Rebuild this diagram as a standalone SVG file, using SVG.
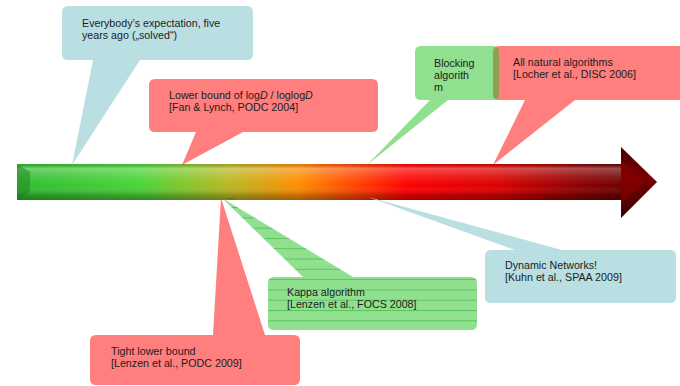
<svg xmlns="http://www.w3.org/2000/svg" width="680" height="386" viewBox="0 0 680 386">
  <style>
    text { font-family: "Liberation Sans", Arial, sans-serif; font-size: 10.7px; fill: #1c1c1c; }
    .blue { fill: #b9dfe3; }
    .red { fill: #ff0000; fill-opacity: 0.5; }
    .green { fill: #21c121; fill-opacity: 0.5; }
  </style>
  <defs>
    <!-- colour run of the timeline arrow, green to dark red -->
    <linearGradient id="timeColor" gradientUnits="userSpaceOnUse" x1="17" y1="0" x2="657" y2="0">
      <stop offset="0" stop-color="#30bc30"/>
      <stop offset="0.19" stop-color="#48d438"/>
      <stop offset="0.33" stop-color="#b8b822"/>
      <stop offset="0.44" stop-color="#ff8c00"/>
      <stop offset="0.52" stop-color="#ff4a00"/>
      <stop offset="0.61" stop-color="#ff0000"/>
      <stop offset="0.75" stop-color="#dc0000"/>
      <stop offset="0.88" stop-color="#8c0000"/>
      <stop offset="1" stop-color="#560000"/>
    </linearGradient>
    <!-- tube shading: light band on top, shadow underneath -->
    <linearGradient id="tubeShade" x1="0" y1="0" x2="0" y2="1">
      <stop offset="0" stop-color="#000" stop-opacity="0.12"/>
      <stop offset="0.12" stop-color="#fff" stop-opacity="0.3"/>
      <stop offset="0.35" stop-color="#fff" stop-opacity="0.12"/>
      <stop offset="0.6" stop-color="#fff" stop-opacity="0"/>
      <stop offset="0.85" stop-color="#000" stop-opacity="0.2"/>
      <stop offset="1" stop-color="#000" stop-opacity="0.35"/>
    </linearGradient>
    <linearGradient id="headShade" x1="0" y1="0" x2="0" y2="1">
      <stop offset="0" stop-color="#4a0000"/>
      <stop offset="0.45" stop-color="#7a0000"/>
      <stop offset="0.55" stop-color="#6a0000"/>
      <stop offset="1" stop-color="#3a0000"/>
    </linearGradient>
    <!-- ruled lines inside the Kappa callout -->
    <pattern id="ruled" patternUnits="userSpaceOnUse" x="0" y="207" width="10" height="10.3">
      <line x1="0" y1="0.5" x2="10" y2="0.5" stroke="#2aa82a" stroke-opacity="0.5" stroke-width="1"/>
    </pattern>
  </defs>

  <!-- timeline arrow -->
  <g id="timeline">
    <rect x="17" y="164" width="605" height="36" fill="url(#timeColor)"/>
    <rect x="17" y="164" width="605" height="36" fill="url(#tubeShade)"/>
    <polygon points="17,164 30,172 30,192 17,200" fill="#1a7a1a" fill-opacity="0.45"/>
    <polygon points="621,147 657,182 621,218" fill="url(#headShade)"/>
    <polygon points="621,160 645,182 621,204" fill="#8a0000" fill-opacity="0.6"/>
    <text x="228" y="199" style="font-size:7px">...</text>
  </g>

  <g id="expectation">
    <path class="blue" d="M68,6 H247 Q253,6 253,12 V54 Q253,60 247,60 H140 L72,165 L93,60 H68 Q62,60 62,54 V12 Q62,6 68,6 Z"/>
    <text x="82" y="27">Everybody’s expectation, five</text>
    <text x="82" y="39">years ago („solved“)</text>
  </g>

  <g id="lower-bound">
    <path class="red" d="M155,79 H372 Q378,79 378,85 V126 Q378,132 372,132 H243 L182,165 L196,132 H155 Q149,132 149,126 V85 Q149,79 155,79 Z"/>
    <text x="169" y="99">Lower bound of log<tspan font-style="italic">D</tspan> / loglog<tspan font-style="italic">D</tspan></text>
    <text x="169" y="111">[Fan &amp; Lynch, PODC 2004]</text>
  </g>

  <g id="all-natural">
    <path class="red" d="M499,46 H700 V100 H575 L493,165 L525,100 H499 Q493,100 493,94 V52 Q493,46 499,46 Z"/>
    <text x="513" y="66">All natural algorithms</text>
    <text x="513" y="78">[Locher et al., DISC 2006]</text>
  </g>

  <g id="blocking">
    <path class="green" d="M421,46 H493 Q499,46 499,52 V94 Q499,100 493,100 H448 L367,165 L430,100 H421 Q415,100 415,94 V52 Q415,46 421,46 Z"/>
    <text x="434" y="67">Blocking</text>
    <text x="434" y="79">algorith</text>
    <text x="434" y="91">m</text>
  </g>

  <g id="tight-bound">
    <path class="red" d="M96,335 H213 L221,198 L265,335 H294 Q300,335 300,341 V379 Q300,385 294,385 H96 Q90,385 90,379 V341 Q90,335 96,335 Z"/>
    <text x="111" y="355">Tight lower bound</text>
    <text x="111" y="367">[Lenzen et al., PODC 2009]</text>
  </g>

  <g id="kappa">
    <path class="green" d="M274,277 H303 L222,198 L353,277 H471 Q477,277 477,283 V324 Q477,330 471,330 H274 Q268,330 268,324 V283 Q268,277 274,277 Z"/>
    <path fill="url(#ruled)" d="M274,277 H303 L222,198 L353,277 H471 Q477,277 477,283 V324 Q477,330 471,330 H274 Q268,330 268,324 V283 Q268,277 274,277 Z"/>
    <text x="287" y="296">Kappa algorithm</text>
    <text x="287" y="308">[Lenzen et al., FOCS 2008]</text>
  </g>

  <g id="dynamic">
    <path class="blue" d="M491,250 H515 L368,197 L562,250 H670 Q676,250 676,256 V297 Q676,303 670,303 H491 Q485,303 485,297 V256 Q485,250 491,250 Z"/>
    <text x="505" y="269">Dynamic Networks!</text>
    <text x="505" y="281">[Kuhn et al., SPAA 2009]</text>
  </g>
</svg>
